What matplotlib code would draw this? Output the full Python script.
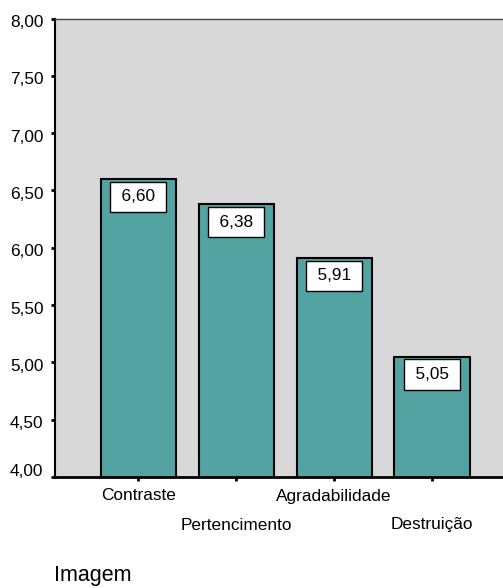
import matplotlib
matplotlib.use("Agg")
import matplotlib.pyplot as plt
import matplotlib.transforms as mtransforms

categories = ["Contraste", "Pertencimento", "Agradabilidade", "Destruição"]
values = [6.60, 6.38, 5.91, 5.05]
y_ticks = [4.00, 4.50, 5.00, 5.50, 6.00, 6.50, 7.00, 7.50, 8.00]
x_title = "Imagem"

def fmt(v):
    return f"{v:.2f}".replace(".", ",")

plt.rcParams['font.family'] = ['Liberation Sans', 'DejaVu Sans']
FS = 12.4

fig = plt.figure(figsize=(5.03, 5.88), dpi=100)
ax = fig.add_axes([54.5 / 503, 111 / 588, 1 - 54.5 / 503 + 0.002, (477 - 18.5) / 588])
ax.set_facecolor('#d8d8d8')

x = list(range(len(categories)))
ax.bar(x, values, width=0.767, color='#53a3a3', edgecolor='black', linewidth=1.5, zorder=2)

ax.set_xlim(-0.855, 3.735)
ax.set_ylim(4, 8)

ax.set_yticks(y_ticks)
ax.set_yticklabels([fmt(v) for v in y_ticks], fontsize=FS)
ax.set_xticks(x)
ax.set_xticklabels([""] * len(x))
ax.tick_params(axis='y', direction='out', length=3, width=2, pad=5, colors='black')
ax.tick_params(axis='x', direction='out', length=3, width=2, pad=2, colors='black')

# SPSS-like slight vertical shift of y tick labels
for v, lab in zip(y_ticks, ax.get_yticklabels()):
    dy = 7 if v == y_ticks[0] else -2.5
    lab.set_transform(lab.get_transform() + mtransforms.Affine2D().translate(0, dy))

ax.spines['right'].set_visible(False)
ax.spines['top'].set_color('#444444')
ax.spines['top'].set_linewidth(1.0)
ax.spines['left'].set_linewidth(1.5)
ax.spines['bottom'].set_linewidth(2.0)

# value labels
for xi, v in zip(x, values):
    ax.annotate("\u2009" + fmt(v) + "\u2009", xy=(xi, v), xytext=(0, -7.5), textcoords='offset points',
                ha='center', va='top', fontsize=FS, zorder=3,
                bbox=dict(boxstyle='square,pad=0.45', facecolor='white', edgecolor='black', linewidth=1.0))

# staggered category labels
trans = mtransforms.blended_transform_factory(ax.transData, ax.transAxes)
for i, (xi, lab) in enumerate(zip(x, categories)):
    off = -19 if i % 2 == 0 else -48
    t = mtransforms.offset_copy(trans, fig=fig, x=0, y=off, units='dots')
    ax.text(xi, 0, lab, transform=t, ha='center', va='center', fontsize=FS, clip_on=False)

fig.text(54 / 503, 6.5 / 588, x_title, fontsize=15.5, ha='left', va='baseline')

fig.savefig("out.png", dpi=100)
